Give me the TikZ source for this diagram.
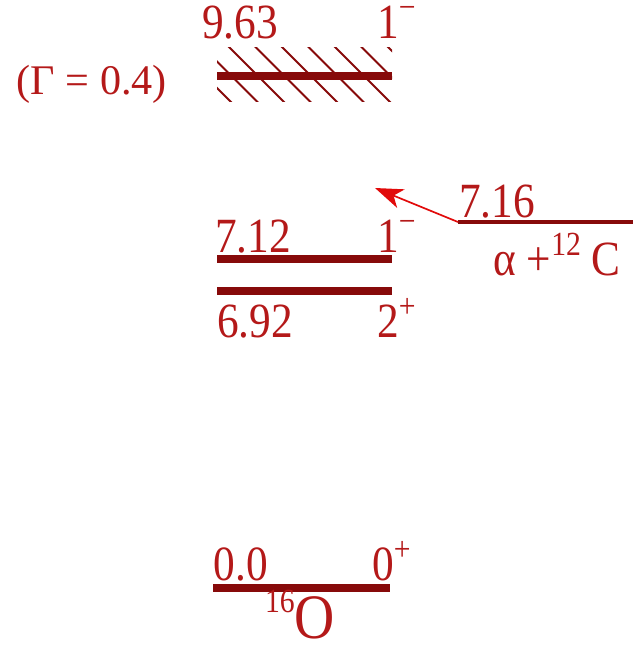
\documentclass[tikz,border=0pt]{standalone}
\usepackage{fontspec}
\setmainfont{Liberation Serif}
\newfontfamily\lvlfont[FakeStretch=0.88]{Liberation Serif}
\newcommand\spr[1]{\raisebox{0.4em}[0pt][0pt]{\fontsize{24}{24}\selectfont #1}}
\usetikzlibrary{arrows.meta}
\definecolor{lvlred}{RGB}{135,10,10}
\definecolor{txtred}{RGB}{180,25,25}
\definecolor{arrred}{RGB}{225,10,10}

\begin{document}
\begin{tikzpicture}[x=0.025cm, y=-0.025cm,
    level/.style={draw=lvlred, line width=5pt},
    hatch/.style={draw=lvlred, line width=1.5pt},
    lbl/.style={text=txtred, inner sep=0pt, anchor=base, font=\lvlfont\fontsize{35}{38}\selectfont},
    arrow/.style={-{Stealth[length=7mm, width=5mm, inset=2mm]}, draw=arrred, fill=arrred, line width=1.2pt}
]
    \useasboundingbox (0,0) rectangle (635,645);
    % level ends
    \coordinate (a963) at (217,76);  \coordinate (b963) at (392,76);
    \coordinate (a712) at (217,259); \coordinate (b712) at (392,259);
    \coordinate (a692) at (217,291); \coordinate (b692) at (392,291);
    \coordinate (a716) at (458,222); \coordinate (b716) at (633,222);
    \coordinate (a000) at (213,588); \coordinate (b000) at (390,588);
    \coordinate (tip716) at (375,188);

    \begin{scope}
        \clip (217,47) rectangle (392,101);
        \foreach \k in {-3,...,7}
            \draw[hatch] ({182+26.5*\k},0) -- ++(110,110);
    \end{scope}
    \draw[level] (a963) -- (b963);
    \draw[level] (a712) -- (b712);
    \draw[level] (a692) -- (b692);
    \draw[level, line width=3.5pt] (a716) -- (b716);
    \draw[level] (a000) -- (b000);
    \draw[arrow] (a716) -- (tip716);

    \node[lbl] (e963) at (240,38) {9.63};
    \node[lbl, anchor=base west] (j963) at (377,38) {1\spr{−}};
    \node[lbl, font=\fontsize{30}{32}\selectfont] (gam) at (92,94) {(Γ = 0.4)};
    \node[lbl] (e712) at (253,252) {7.12};
    \node[lbl, anchor=base west] (j712) at (377,252) {1\spr{−}};
    \node[lbl] (e692) at (255,337) {6.92};
    \node[lbl, anchor=base west] (j692) at (377,337) {2\spr{+}};
    \node[lbl] (e716) at (497,217) {7.16};
    \node[lbl] (ac) at (557,275) {α +\spr{12} C};
    \node[lbl] (e000) at (241,580) {0.0};
    \node[lbl, anchor=base west] (j000) at (372,580) {0\spr{+}};
    \node[lbl, font=\lvlfont\fontsize{45}{48}\selectfont] (nuc) at (300,638) {\spr{16}O};
\end{tikzpicture}
\end{document}
